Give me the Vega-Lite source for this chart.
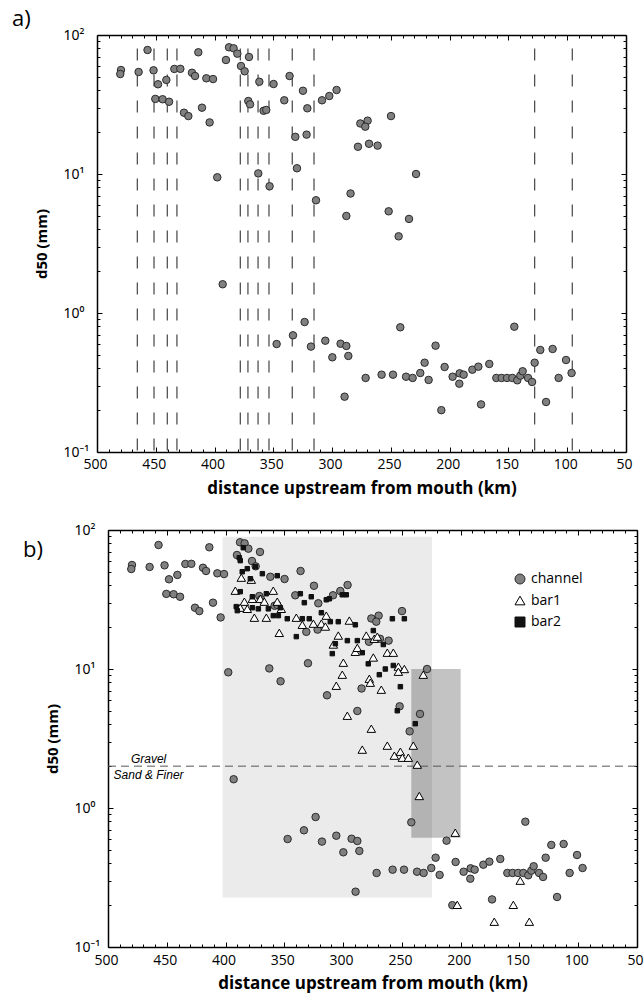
{
"$schema": "https://vega.github.io/schema/vega-lite/v6.json",
"padding": {"left": 12, "top": 8, "right": 5, "bottom": 5},
"config": {"view": {"stroke": null}, "font": "Open Sans"},
"datasets": {
"samples": [
{"type":"channel","km":479.6,"d50":56.0},{"type":"channel","km":480.2,"d50":52.4},{"type":"channel","km":464.6,"d50":54.2},{"type":"channel","km":457.0,"d50":78.0},{"type":"channel","km":451.9,"d50":55.7},{"type":"channel","km":450.4,"d50":34.7},{"type":"channel","km":448.1,"d50":44.2},{"type":"channel","km":444.2,"d50":34.5},{"type":"channel","km":441.0,"d50":47.5},{"type":"channel","km":438.7,"d50":33.1},{"type":"channel","km":434.2,"d50":57.0},{"type":"channel","km":429.1,"d50":57.1},{"type":"channel","km":426.0,"d50":27.6},{"type":"channel","km":422.3,"d50":26.1},{"type":"channel","km":419.2,"d50":53.5},{"type":"channel","km":416.6,"d50":50.7},{"type":"channel","km":413.8,"d50":75.1},{"type":"channel","km":410.7,"d50":30.0},{"type":"channel","km":407.0,"d50":48.8},{"type":"channel","km":404.2,"d50":23.5},{"type":"channel","km":401.3,"d50":48.2},{"type":"channel","km":397.7,"d50":9.47},{"type":"channel","km":390.3,"d50":66.1},{"type":"channel","km":387.7,"d50":81.6},{"type":"channel","km":383.8,"d50":80.2},{"type":"channel","km":380.6,"d50":73.4},{"type":"channel","km":377.5,"d50":59.8},{"type":"channel","km":374.4,"d50":54.8},{"type":"channel","km":370.7,"d50":69.5},{"type":"channel","km":371.3,"d50":33.5},{"type":"channel","km":369.8,"d50":31.7},{"type":"channel","km":361.9,"d50":46.1},{"type":"channel","km":362.8,"d50":10.1},{"type":"channel","km":358.3,"d50":28.5},{"type":"channel","km":356.0,"d50":28.9},{"type":"channel","km":353.2,"d50":8.16},{"type":"channel","km":349.8,"d50":44.4},{"type":"channel","km":340.7,"d50":33.9},{"type":"channel","km":336.2,"d50":50.7},{"type":"channel","km":331.3,"d50":18.5},{"type":"channel","km":329.9,"d50":11.0},{"type":"channel","km":324.8,"d50":39.7},{"type":"channel","km":321.1,"d50":29.7},{"type":"channel","km":321.7,"d50":19.2},{"type":"channel","km":313.7,"d50":6.47},{"type":"channel","km":308.6,"d50":33.9},{"type":"channel","km":302.4,"d50":36.4},{"type":"channel","km":296.2,"d50":40.2},{"type":"channel","km":287.9,"d50":4.99},{"type":"channel","km":284.3,"d50":7.24},{"type":"channel","km":278.0,"d50":15.7},{"type":"channel","km":276.0,"d50":23.1},{"type":"channel","km":269.8,"d50":24.2},{"type":"channel","km":271.8,"d50":21.9},{"type":"channel","km":249.9,"d50":26.1},{"type":"channel","km":268.6,"d50":16.5},{"type":"channel","km":261.3,"d50":16.0},{"type":"channel","km":228.6,"d50":10.0},{"type":"channel","km":251.9,"d50":5.39},{"type":"channel","km":234.6,"d50":4.75},{"type":"channel","km":243.4,"d50":3.56},{"type":"channel","km":393.1,"d50":1.61},{"type":"channel","km":347.2,"d50":0.598},{"type":"channel","km":333.3,"d50":0.691},{"type":"channel","km":323.4,"d50":0.861},{"type":"channel","km":318.0,"d50":0.573},{"type":"channel","km":305.8,"d50":0.632},{"type":"channel","km":299.8,"d50":0.480},{"type":"channel","km":292.8,"d50":0.601},{"type":"channel","km":287.9,"d50":0.579},{"type":"channel","km":286.2,"d50":0.491},{"type":"channel","km":289.4,"d50":0.250},{"type":"channel","km":242.0,"d50":0.789},{"type":"channel","km":271.5,"d50":0.341},{"type":"channel","km":257.9,"d50":0.360},{"type":"channel","km":248.2,"d50":0.360},{"type":"channel","km":237.1,"d50":0.348},{"type":"channel","km":231.5,"d50":0.341},{"type":"channel","km":225.0,"d50":0.370},{"type":"channel","km":221.3,"d50":0.439},{"type":"channel","km":217.9,"d50":0.330},{"type":"channel","km":212.0,"d50":0.582},{"type":"channel","km":207.1,"d50":0.200},{"type":"channel","km":204.3,"d50":0.409},{"type":"channel","km":197.5,"d50":0.348},{"type":"channel","km":191.5,"d50":0.368},{"type":"channel","km":191.8,"d50":0.310},{"type":"channel","km":188.1,"d50":0.360},{"type":"channel","km":180.7,"d50":0.391},{"type":"channel","km":175.6,"d50":0.411},{"type":"channel","km":173.3,"d50":0.220},{"type":"channel","km":166.3,"d50":0.430},{"type":"channel","km":160.3,"d50":0.341},{"type":"channel","km":155.8,"d50":0.341},{"type":"channel","km":151.2,"d50":0.341},{"type":"channel","km":146.7,"d50":0.341},{"type":"channel","km":145.0,"d50":0.797},{"type":"channel","km":142.5,"d50":0.328},{"type":"channel","km":139.9,"d50":0.354},{"type":"channel","km":137.9,"d50":0.381},{"type":"channel","km":133.3,"d50":0.341},{"type":"channel","km":129.9,"d50":0.319},{"type":"channel","km":127.7,"d50":0.439},{"type":"channel","km":122.9,"d50":0.542},{"type":"channel","km":118.0,"d50":0.229},{"type":"channel","km":112.4,"d50":0.551},{"type":"channel","km":107.3,"d50":0.341},{"type":"channel","km":101.0,"d50":0.459},{"type":"channel","km":96.3,"d50":0.370},
{"type":"bar1","km":386.6,"d50":45.4},{"type":"bar1","km":378.1,"d50":43.9},{"type":"bar1","km":391.7,"d50":36.6},{"type":"bar1","km":359.4,"d50":36.6},{"type":"bar1","km":384.0,"d50":30.5},{"type":"bar1","km":377.2,"d50":32.0},{"type":"bar1","km":370.4,"d50":32.0},{"type":"bar1","km":367.0,"d50":30.5},{"type":"bar1","km":356.0,"d50":30.5},{"type":"bar1","km":352.6,"d50":27.1},{"type":"bar1","km":387.5,"d50":27.6},{"type":"bar1","km":381.5,"d50":27.1},{"type":"bar1","km":375.5,"d50":23.4},{"type":"bar1","km":365.3,"d50":23.4},{"type":"bar1","km":354.3,"d50":18.2},{"type":"bar1","km":339.8,"d50":23.4},{"type":"bar1","km":334.7,"d50":20.8},{"type":"bar1","km":325.3,"d50":21.2},{"type":"bar1","km":318.5,"d50":21.2},{"type":"bar1","km":314.3,"d50":24.2},{"type":"bar1","km":315.1,"d50":20.2},{"type":"bar1","km":294.7,"d50":22.3},{"type":"bar1","km":304.1,"d50":17.4},{"type":"bar1","km":308.3,"d50":15.0},{"type":"bar1","km":299.8,"d50":11.1},{"type":"bar1","km":300.7,"d50":9.10},{"type":"bar1","km":305.8,"d50":7.58},{"type":"bar1","km":296.4,"d50":4.61},{"type":"bar1","km":280.3,"d50":17.4},{"type":"bar1","km":273.5,"d50":16.5},{"type":"bar1","km":270.9,"d50":17.1},{"type":"bar1","km":289.6,"d50":13.3},{"type":"bar1","km":287.9,"d50":14.2},{"type":"bar1","km":274.3,"d50":12.1},{"type":"bar1","km":262.4,"d50":13.1},{"type":"bar1","km":257.3,"d50":13.1},{"type":"bar1","km":253.0,"d50":10.4},{"type":"bar1","km":247.9,"d50":10.0},{"type":"bar1","km":253.0,"d50":9.56},{"type":"bar1","km":231.8,"d50":9.10},{"type":"bar1","km":277.7,"d50":8.51},{"type":"bar1","km":276.9,"d50":7.97},{"type":"bar1","km":267.5,"d50":7.10},{"type":"bar1","km":276.0,"d50":3.72},{"type":"bar1","km":283.7,"d50":2.63},{"type":"bar1","km":262.4,"d50":2.81},{"type":"bar1","km":256.4,"d50":2.38},{"type":"bar1","km":251.3,"d50":2.54},{"type":"bar1","km":249.6,"d50":2.30},{"type":"bar1","km":244.5,"d50":2.30},{"type":"bar1","km":240.3,"d50":2.81},{"type":"bar1","km":236.9,"d50":2.05},{"type":"bar1","km":235.2,"d50":1.22},{"type":"bar1","km":204.6,"d50":0.664},{"type":"bar1","km":149.3,"d50":0.300},{"type":"bar1","km":202.9,"d50":0.201},{"type":"bar1","km":155.2,"d50":0.201},{"type":"bar1","km":171.4,"d50":0.152},{"type":"bar1","km":141.6,"d50":0.152},
{"type":"bar2","km":384.9,"d50":74.6},{"type":"bar2","km":388.3,"d50":63.2},{"type":"bar2","km":387.5,"d50":60.2},{"type":"bar2","km":385.8,"d50":50.1},{"type":"bar2","km":381.5,"d50":52.7},{"type":"bar2","km":374.7,"d50":54.5},{"type":"bar2","km":368.7,"d50":48.5},{"type":"bar2","km":378.9,"d50":44.6},{"type":"bar2","km":356.0,"d50":46.9},{"type":"bar2","km":387.5,"d50":36.0},{"type":"bar2","km":377.2,"d50":33.1},{"type":"bar2","km":365.3,"d50":34.8},{"type":"bar2","km":390.9,"d50":28.1},{"type":"bar2","km":390.0,"d50":26.3},{"type":"bar2","km":377.2,"d50":27.6},{"type":"bar2","km":372.1,"d50":27.1},{"type":"bar2","km":363.6,"d50":27.1},{"type":"bar2","km":353.4,"d50":27.6},{"type":"bar2","km":359.4,"d50":24.2},{"type":"bar2","km":355.1,"d50":24.2},{"type":"bar2","km":347.5,"d50":23.0},{"type":"bar2","km":336.4,"d50":34.8},{"type":"bar2","km":333.0,"d50":30.0},{"type":"bar2","km":327.1,"d50":33.1},{"type":"bar2","km":334.7,"d50":23.0},{"type":"bar2","km":328.8,"d50":23.0},{"type":"bar2","km":318.5,"d50":25.4},{"type":"bar2","km":314.3,"d50":31.5},{"type":"bar2","km":311.7,"d50":32.0},{"type":"bar2","km":310.9,"d50":21.9},{"type":"bar2","km":304.1,"d50":21.9},{"type":"bar2","km":339.8,"d50":17.1},{"type":"bar2","km":300.7,"d50":34.2},{"type":"bar2","km":297.3,"d50":34.2},{"type":"bar2","km":296.4,"d50":16.0},{"type":"bar2","km":306.6,"d50":15.2},{"type":"bar2","km":309.2,"d50":12.9},{"type":"bar2","km":289.6,"d50":20.8},{"type":"bar2","km":287.9,"d50":16.0},{"type":"bar2","km":283.7,"d50":13.1},{"type":"bar2","km":278.6,"d50":10.9},{"type":"bar2","km":274.3,"d50":18.9},{"type":"bar2","km":265.8,"d50":15.0},{"type":"bar2","km":258.1,"d50":23.0},{"type":"bar2","km":247.9,"d50":23.0},{"type":"bar2","km":257.3,"d50":10.6},{"type":"bar2","km":264.1,"d50":10.0},{"type":"bar2","km":269.2,"d50":9.10},{"type":"bar2","km":251.3,"d50":7.46},{"type":"bar2","km":253.9,"d50":5.01},{"type":"bar2","km":238.6,"d50":4.04}
]
},
"resolve": {
"scale": {"fill": "independent", "stroke": "independent", "shape": "independent"},
"legend": {"fill": "independent", "stroke": "independent", "shape": "independent"}
},
"vconcat": [
{
"width": 529, "height": 417,
"title": {"text": "a)", "anchor": "start", "frame": "group", "dx": -85, "offset": -20, "fontSize": 22, "fontWeight": "normal", "font": "Open Sans", "baseline": "alphabetic", "color": "#000"},
"resolve": {"axis": {"x": "independent", "y": "independent"}},
"layer": [
{
"data": {"values": [{"km":465.7},{"km":451.5},{"km":440.2},{"km":432.0},{"km":378.1},{"km":371.6},{"km":363.0},{"km":353.7},{"km":333.9},{"km":315.4},{"km":127.7},{"km":95.7}]},
"mark": {"type": "rule", "strokeDash": [12, 14], "color": "#444", "strokeWidth": 1.2},
"encoding": {
"x": {"field": "km", "type": "quantitative", "scale": {"domain": [500, 50], "nice": false, "zero": false},
 "axis": {"orient":"bottom","values":[500,450,400,350,300,250,200,150,100,50],"format":"d","ticks":false,"domain":true,"domainColor":"#000","domainWidth":1.5,"labelPadding":5,"labelFontSize":14,"labelFont":"Open Sans","labelColor":"#000","labelFlush":false,"labelOverlap":false,"labelOffset":-2,"grid":false,"title":"distance upstream from mouth (km)","titleFont":"Open Sans","titleFontSize":17,"titleFontWeight":"bold","titleColor":"#000","titlePadding":9}},
"y": {"datum": 80, "type": "quantitative", "scale": {"type": "log", "domain": [0.1, 100], "nice": false},
 "axis": {"orient":"left","values":[0.1,1,10,100],"ticks":false,"domain":true,"domainColor":"#000","domainWidth":1.5,"labelAlign":"left","labelBaseline":"middle","labelPadding":34,"labelFont":"Noto Sans","labelFontSize":14,"labelColor":"#000","labelFlush":false,"labelOverlap":false,"labelExpr":"datum.value >= 99 ? '10²' : datum.value >= 9 ? '10¹' : datum.value >= 0.9 ? '10⁰' : '10⁻¹'","grid":false,"title":"d50 (mm)","titleFont":"Open Sans","titleFontSize":15,"titleFontWeight":"bold","titleColor":"#000","titlePadding":14}},
"y2": {"datum": 0.1}
}
},
{
"data": {"name": "samples"},
"transform": [{"filter": "datum.type === 'channel'"}],
"mark": {"type": "point", "shape": "circle", "filled": true, "fill": "#808080", "stroke": "#2b2b2b", "strokeWidth": 1, "size": 56, "opacity": 1},
"encoding": {
"x": {"field": "km", "type": "quantitative", "scale": {"domain": [500, 50], "nice": false, "zero": false},
 "axis": {"orient":"top","values":[500,450,400,350,300,250,200,150,100,50],"labels":false,"ticks":true,"tickSize":-5,"tickColor":"#000","tickWidth":1,"domain":true,"domainColor":"#000","domainWidth":1.5,"grid":false,"title":null}},
"y": {"field": "d50", "type": "quantitative", "scale": {"type": "log", "domain": [0.1, 100], "nice": false},
 "axis": {"orient":"right","values":[0.1,1,10,100],"labels":false,"ticks":true,"tickSize":-5,"tickColor":"#000","tickWidth":1,"domain":true,"domainColor":"#000","domainWidth":1.5,"grid":false,"title":null}}
}
},
{
"data": {"values": []},
"mark": "point",
"encoding": {
"x": {"field": "km", "type": "quantitative", "scale": {"domain": [500, 50], "nice": false, "zero": false},
 "axis": {"orient":"bottom","values":[500,450,400,350,300,250,200,150,100,50],"labels":false,"ticks":true,"tickSize":-5,"tickColor":"#000","tickWidth":1,"domain":false,"grid":false,"title":null}},
"y": {"field": "d50", "type": "quantitative", "scale": {"type": "log", "domain": [0.1, 100], "nice": false},
 "axis": {"orient":"left","values":[0.1,1,10,100],"labels":false,"ticks":true,"tickSize":-5,"tickColor":"#000","tickWidth":1,"domain":false,"grid":false,"title":null}}
}
},
{
"data": {"values": []},
"mark": "point",
"encoding": {
"x": {"field": "km", "type": "quantitative", "scale": {"domain": [500, 50], "nice": false, "zero": false},
 "axis": {"orient":"bottom","values":[490,480,470,460,440,430,420,410,390,380,370,360,340,330,320,310,290,280,270,260,240,230,220,210,190,180,170,160,140,130,120,110,90,80,70,60],"labels":false,"ticks":true,"tickSize":-3,"tickColor":"#000","tickWidth":1,"domain":false,"grid":false,"title":null}},
"y": {"field": "d50", "type": "quantitative", "scale": {"type": "log", "domain": [0.1, 100], "nice": false},
 "axis": {"orient":"left","values":[0.2,0.3,0.4,0.5,0.6,0.7,0.8,0.9,2,3,4,5,6,7,8,9,20,30,40,50,60,70,80,90],"labels":false,"ticks":true,"tickSize":-3,"tickColor":"#000","tickWidth":1,"domain":false,"grid":false,"title":null}}
}
},
{
"data": {"values": []},
"mark": "point",
"encoding": {
"x": {"field": "km", "type": "quantitative", "scale": {"domain": [500, 50], "nice": false, "zero": false},
 "axis": {"orient":"top","values":[490,480,470,460,440,430,420,410,390,380,370,360,340,330,320,310,290,280,270,260,240,230,220,210,190,180,170,160,140,130,120,110,90,80,70,60],"labels":false,"ticks":true,"tickSize":-3,"tickColor":"#000","tickWidth":1,"domain":false,"grid":false,"title":null}},
"y": {"field": "d50", "type": "quantitative", "scale": {"type": "log", "domain": [0.1, 100], "nice": false},
 "axis": {"orient":"right","values":[0.2,0.3,0.4,0.5,0.6,0.7,0.8,0.9,2,3,4,5,6,7,8,9,20,30,40,50,60,70,80,90],"labels":false,"ticks":true,"tickSize":-3,"tickColor":"#000","tickWidth":1,"domain":false,"grid":false,"title":null}}
}
}
]
},
{
"width": 540, "height": 417,
"title": {"text": "b)", "anchor": "start", "frame": "group", "dx": -74, "dy": 61, "offset": 5, "fontSize": 22, "fontWeight": "normal", "font": "Open Sans", "baseline": "alphabetic", "color": "#000"},
"resolve": {"axis": {"x": "independent", "y": "independent"}},
"layer": [
{
"data": {"values": [{"kind": "light", "km1": 402.5, "km2": 224.4, "lo": 0.2275, "hi": 89.5}, {"kind": "dark", "km1": 242.0, "km2": 200.0, "lo": 0.61, "hi": 10.0}]},
"mark": {"type": "rect", "strokeWidth": 0},
"encoding": {
"x": {"field": "km1", "type": "quantitative", "scale": {"domain": [500, 50], "range": [11, 540], "nice": false, "zero": false},
 "axis": {"orient":"bottom","values":[500,450,400,350,300,250,200,150,100,50],"format":"d","ticks":false,"domain":true,"domainColor":"#000","domainWidth":1.5,"labelPadding":6,"labelFontSize":14,"labelFont":"Open Sans","labelColor":"#000","labelFlush":false,"labelOverlap":false,"labelOffset":-2,"grid":false,"title":"distance upstream from mouth (km)","titleFont":"Open Sans","titleFontSize":17,"titleFontWeight":"bold","titleColor":"#000","titlePadding":8}},
"x2": {"field": "km2"},
"y": {"field": "lo", "type": "quantitative", "scale": {"type": "log", "domain": [0.1, 100], "nice": false},
 "axis": {"orient":"left","offset":-11,"values":[0.1,1,10,100],"ticks":false,"domain":true,"domainColor":"#000","domainWidth":1.5,"labelAlign":"left","labelBaseline":"middle","labelPadding":34,"labelFont":"Noto Sans","labelFontSize":14,"labelColor":"#000","labelFlush":false,"labelOverlap":false,"labelExpr":"datum.value >= 99 ? '10²' : datum.value >= 9 ? '10¹' : datum.value >= 0.9 ? '10⁰' : '10⁻¹'","grid":false,"title":"d50 (mm)","titleFont":"Open Sans","titleFontSize":15,"titleFontWeight":"bold","titleColor":"#000","titlePadding":14}},
"y2": {"field": "hi"},
"fill": {"condition": {"test": "datum.kind === 'dark'", "value": "#000000"}, "value": "#ebebeb"},
"fillOpacity": {"condition": {"test": "datum.kind === 'dark'", "value": 0.235}, "value": 1}
}
},
{
"data": {"values": [{"d50": 2}]},
"mark": {"type": "rule", "strokeDash": [8, 5], "color": "#555", "strokeWidth": 1},
"encoding": {
"x": {"datum": 500, "type": "quantitative", "scale": {"domain": [500, 50], "range": [11, 540], "nice": false, "zero": false},
 "axis": {"orient":"top","values":[500,450,400,350,300,250,200,150,100,50],"labels":false,"ticks":true,"tickSize":-5,"tickColor":"#000","tickWidth":1,"domain":true,"domainColor":"#000","domainWidth":1.5,"grid":false,"title":null}},
"x2": {"datum": 50},
"y": {"field": "d50", "type": "quantitative", "scale": {"type": "log", "domain": [0.1, 100], "nice": false},
 "axis": {"orient":"right","values":[0.1,1,10,100],"labels":false,"ticks":true,"tickSize":-5,"tickColor":"#000","tickWidth":1,"domain":true,"domainColor":"#000","domainWidth":1.5,"grid":false,"title":null}}
}
},
{
"data": {"values": [{"label": "Gravel", "km": 465.5, "d50": 2}]},
"mark": {"type": "text", "font": "Liberation Sans", "fontStyle": "italic", "fontSize": 12, "align": "center", "baseline": "alphabetic", "dy": -3, "color": "#000"},
"encoding": {
"text": {"field": "label"},
"x": {"field": "km", "type": "quantitative", "scale": {"domain": [500, 50], "range": [11, 540], "nice": false, "zero": false},
 "axis": {"orient":"bottom","values":[500,450,400,350,300,250,200,150,100,50],"labels":false,"ticks":true,"tickSize":-5,"tickColor":"#000","tickWidth":1,"domain":false,"grid":false,"title":null}},
"y": {"field": "d50", "type": "quantitative", "scale": {"type": "log", "domain": [0.1, 100], "nice": false},
 "axis": {"orient":"left","offset":-11,"values":[0.1,1,10,100],"labels":false,"ticks":true,"tickSize":-5,"tickColor":"#000","tickWidth":1,"domain":false,"grid":false,"title":null}}
}
},
{
"data": {"values": [{"label": "Sand & Finer", "km": 465.5, "d50": 2}]},
"mark": {"type": "text", "font": "Liberation Sans", "fontStyle": "italic", "fontSize": 12, "align": "center", "baseline": "top", "dy": 4, "color": "#000"},
"encoding": {
"text": {"field": "label"},
"x": {"field": "km", "type": "quantitative", "scale": {"domain": [500, 50], "range": [11, 540], "nice": false, "zero": false},
 "axis": {"orient":"bottom","values":[490,480,470,460,440,430,420,410,390,380,370,360,340,330,320,310,290,280,270,260,240,230,220,210,190,180,170,160,140,130,120,110,90,80,70,60],"labels":false,"ticks":true,"tickSize":-3,"tickColor":"#000","tickWidth":1,"domain":false,"grid":false,"title":null}},
"y": {"field": "d50", "type": "quantitative", "scale": {"type": "log", "domain": [0.1, 100], "nice": false},
 "axis": {"orient":"left","offset":-11,"values":[0.2,0.3,0.4,0.5,0.6,0.7,0.8,0.9,2,3,4,5,6,7,8,9,20,30,40,50,60,70,80,90],"labels":false,"ticks":true,"tickSize":-3,"tickColor":"#000","tickWidth":1,"domain":false,"grid":false,"title":null}}
}
},
{
"data": {"name": "samples"},
"mark": {"type": "point", "filled": true, "strokeWidth": 1, "opacity": 1},
"encoding": {
"x": {"field": "km", "type": "quantitative", "scale": {"domain": [500, 50], "range": [11, 540], "nice": false, "zero": false},
 "axis": {"orient":"top","values":[490,480,470,460,440,430,420,410,390,380,370,360,340,330,320,310,290,280,270,260,240,230,220,210,190,180,170,160,140,130,120,110,90,80,70,60],"labels":false,"ticks":true,"tickSize":-3,"tickColor":"#000","tickWidth":1,"domain":false,"grid":false,"title":null}},
"y": {"field": "d50", "type": "quantitative", "scale": {"type": "log", "domain": [0.1, 100], "nice": false},
 "axis": {"orient":"right","values":[0.2,0.3,0.4,0.5,0.6,0.7,0.8,0.9,2,3,4,5,6,7,8,9,20,30,40,50,60,70,80,90],"labels":false,"ticks":true,"tickSize":-3,"tickColor":"#000","tickWidth":1,"domain":false,"grid":false,"title":null}},
"size": {"condition": [{"test": "datum.type === 'bar2'", "value": 20}, {"test": "datum.type === 'bar1'", "value": 72}], "value": 56},
"fill": {"field": "type", "type": "nominal", "scale": {"domain": ["channel","bar1","bar2"], "range": ["#808080","#ffffff","#111111"]},
 "legend": {"title": null, "orient": "none", "legendX": 416, "legendY": 42, "labelFont": "Open Sans", "labelFontSize": 14, "labelColor": "#000", "symbolStrokeWidth": 1, "rowPadding": 7.5, "labelOffset": 4, "padding": 0, "encode": {"symbols": {"update": {"size": {"signal": "datum.value === 'bar2' ? 20 : datum.value === 'bar1' ? 72 : 56"}}}}}},
"stroke": {"field": "type", "type": "nominal", "scale": {"domain": ["channel","bar1","bar2"], "range": ["#2b2b2b","#000000","#111111"]},
 "legend": {"title": null, "orient": "none", "legendX": 416, "legendY": 42, "labelFont": "Open Sans", "labelFontSize": 14, "labelColor": "#000", "symbolStrokeWidth": 1, "rowPadding": 7.5, "labelOffset": 4, "padding": 0, "encode": {"symbols": {"update": {"size": {"signal": "datum.value === 'bar2' ? 20 : datum.value === 'bar1' ? 72 : 56"}}}}}},
"shape": {"field": "type", "type": "nominal", "scale": {"domain": ["channel","bar1","bar2"], "range": ["circle","triangle-up","square"]},
 "legend": {"title": null, "orient": "none", "legendX": 416, "legendY": 42, "labelFont": "Open Sans", "labelFontSize": 14, "labelColor": "#000", "symbolStrokeWidth": 1, "rowPadding": 7.5, "labelOffset": 4, "padding": 0, "encode": {"symbols": {"update": {"size": {"signal": "datum.value === 'bar2' ? 20 : datum.value === 'bar1' ? 72 : 56"}}}}}}
}
}
]
}
],
"spacing": 27
}
